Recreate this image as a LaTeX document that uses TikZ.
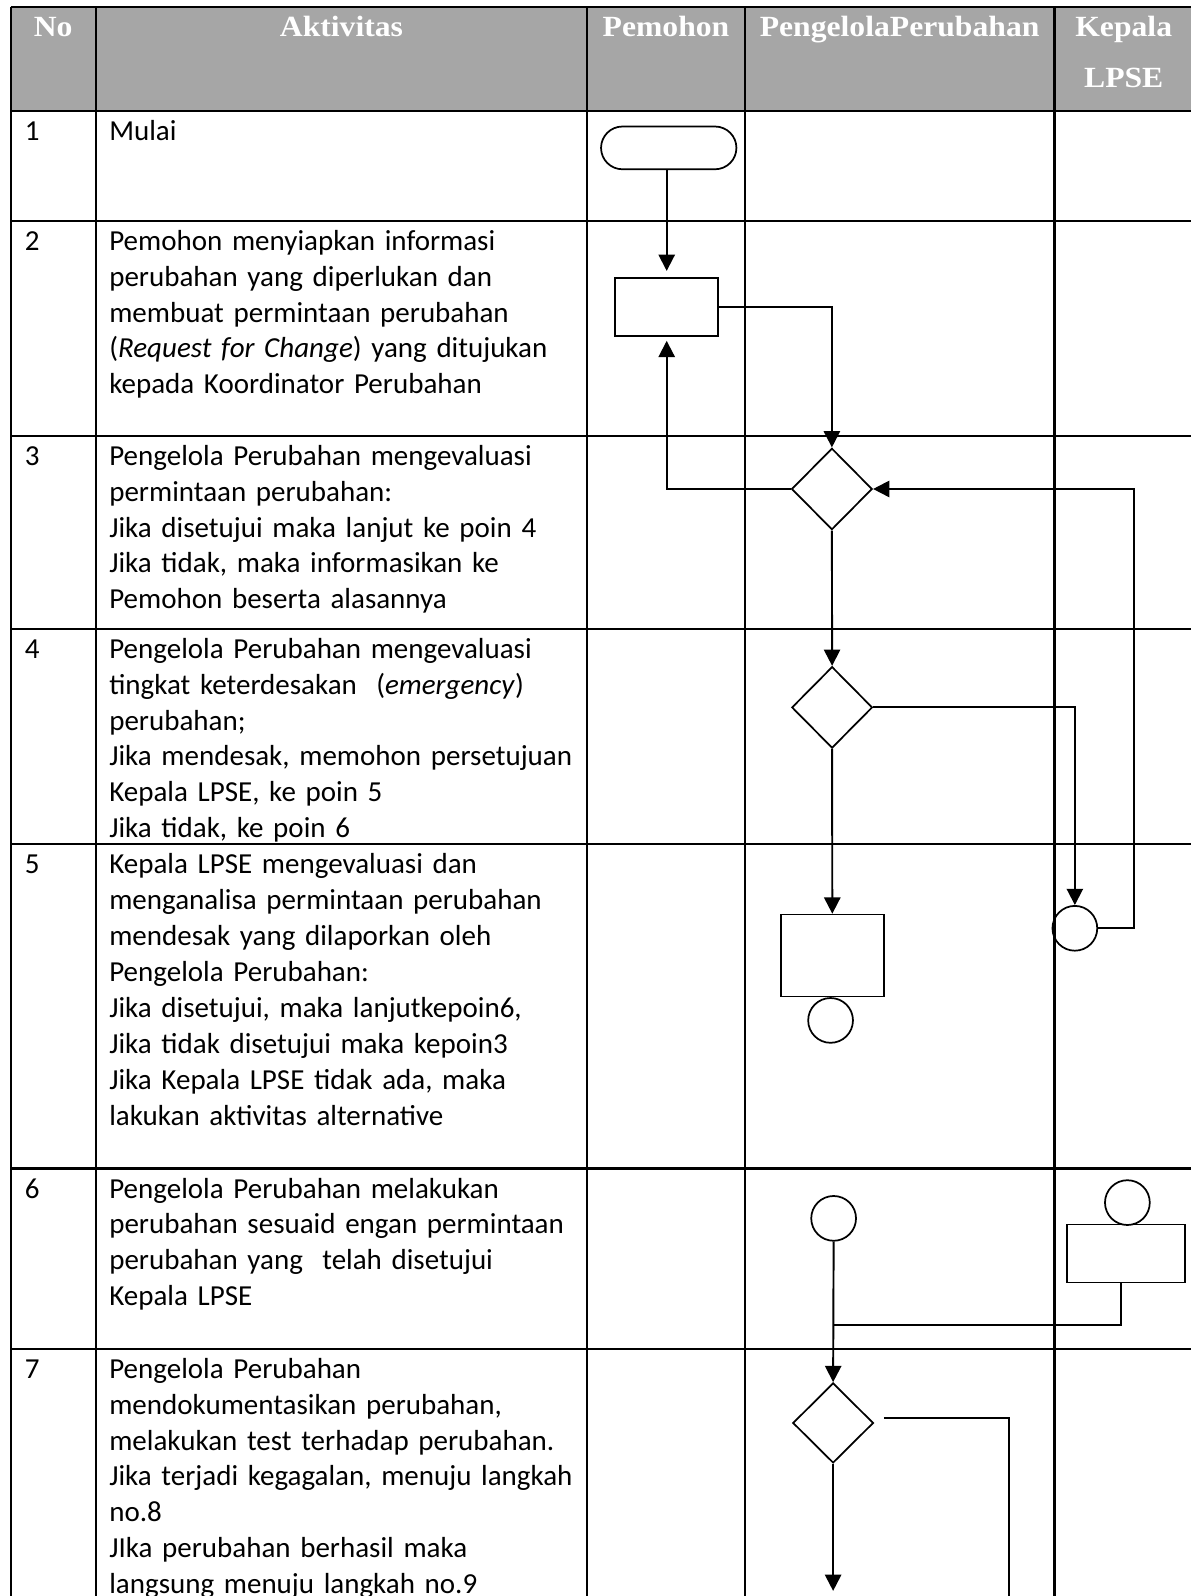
\documentclass[tikz,border=0pt]{standalone}
\usepackage{fontspec}
\setmainfont{Carlito}
\newfontfamily\hdrfont[FakeStretch=1.08]{Liberation Serif}
\usetikzlibrary{arrows.meta,shapes.geometric}
\definecolor{hdrgray}{RGB}{166,166,166}
\begin{document}
\begin{tikzpicture}[x=0.5pt,y=-0.5pt,
  grid/.style={line width=1.05pt},
  flow/.style={line width=0.95pt},
  arr/.style={flow,-{Triangle[length=8pt,width=8pt]}},
  shp/.style={draw,line width=0.85pt,inner sep=0pt},
  procbox/.style={shp,rectangle},
  dec/.style={shp,diamond,minimum width=39.6pt,minimum height=40pt},
  conn/.style={shp,circle,minimum size=22pt},
  term/.style={shp,rectangle,rounded corners=10.5pt,minimum width=66.5pt,minimum height=21pt},
  body/.style={inner sep=0pt,anchor=base west,text width=300pt,align=left,font=\fontsize{14.25pt}{17.65pt}\selectfont},
  num/.style={inner sep=0pt,anchor=base west,font=\fontsize{14.25pt}{17.65pt}\selectfont},
  hdr/.style={inner sep=0pt,anchor=base,text=white,font=\hdrfont\bfseries\fontsize{14.4pt}{25.2pt}\selectfont}
]
\useasboundingbox (0,0) rectangle (1170,1568);
% header
\fill[hdrgray] (10.5,7.2) rectangle (1170,109);
% grid
\foreach \x in {10.5,94,577,731.6,1036} \draw[grid] (\x,7.2) -- (\x,1572);
\foreach \y in {7.2,109,216.8,428,617.6,829.4,1148,1325} \draw[grid] (10.5,\y) -- (1172,\y);
% header texts
\node[hdr] (hNo) at (52.3,35.4) {No};
\node[hdr] (hAkt) at (335.5,35.4) {Aktivitas};
\node[hdr] (hPem) at (654.3,35.4) {Pemohon};
\node[hdr] (hPP) at (883.8,35.4) {PengelolaPerubahan};
\node[hdr,text width=60pt,align=center] (hKep) at (1104,35.4) {Kepala\\LPSE};
% numbers
\node[num] (n1) at (24,138) {1};
\node[num] (n2) at (24,245.8) {2};
\node[num] (n3) at (24,457) {3};
\node[num] (n4) at (24,646.6) {4};
\node[num] (n5) at (24,858.4) {5};
\node[num] (n6) at (24,1177) {6};
\node[num] (n7) at (24,1354) {7};
% activity texts
\node[body] (a1) at (107,138) {Mulai};
\node[body] (a2) at (107,245.8) {Pemohon menyiapkan informasi\\perubahan yang diperlukan dan\\membuat permintaan perubahan\\(\textit{Request for Change}) yang ditujukan\\kepada Koordinator Perubahan};
\node[body] (a3) at (107,457) {Pengelola Perubahan mengevaluasi\\permintaan perubahan:\\Jika disetujui maka lanjut ke poin 4\\Jika tidak, maka informasikan ke\\Pemohon beserta alasannya};
\node[body] (a4) at (107,646.6) {Pengelola Perubahan mengevaluasi\\tingkat keterdesakan~ (\textit{emergency})\\perubahan;\\Jika mendesak, memohon persetujuan\\Kepala LPSE, ke poin 5\\Jika tidak, ke poin 6};
\node[body] (a5) at (107,858.4) {Kepala LPSE mengevaluasi dan\\menganalisa permintaan perubahan\\mendesak yang dilaporkan oleh\\Pengelola Perubahan:\\Jika disetujui, maka lanjutkepoin6,\\Jika tidak disetujui maka kepoin3\\Jika Kepala LPSE tidak ada, maka\\lakukan aktivitas alternative};
\node[body] (a6) at (107,1177) {Pengelola Perubahan melakukan\\perubahan sesuaid engan permintaan\\perubahan yang~ telah disetujui\\Kepala LPSE};
\node[body] (a7) at (107,1354) {Pengelola Perubahan\\mendokumentasikan perubahan,\\melakukan test terhadap perubahan.\\Jika terjadi kegagalan, menuju langkah\\no.8\\JIka perubahan berhasil maka\\langsung menuju langkah no.9};
% flowchart shapes
\node[term] (t1) at (657,145.3) {};
\node[procbox,minimum width=50.5pt,minimum height=28.5pt] (p2) at (655,301.5) {};
\node[dec] (d3) at (817.3,480.4) {};
\node[dec] (d4) at (817.5,695) {};
\node[conn] (c5k) at (1056,912) {};
\node[procbox,minimum width=50.5pt,minimum height=40.25pt] (p5) at (817.7,938.8) {};
\node[conn] (c5p) at (816,1002.5) {};
\node[conn] (c6p) at (819,1197) {};
\node[conn] (c6k) at (1107.6,1181.5) {};
\node[procbox,minimum width=58pt,minimum height=28.5pt] (p6k) at (1106,1231.5) {};
\node[dec,minimum height=39.3pt] (d7) at (818.5,1398) {};
% connectors
\draw[arr] (t1.south -| p2.north) -- ([yshift=3pt]p2.north);
\draw[arr] (p2.east) -| (d3.north);
\draw[arr] (d3.west) -| ([yshift=-2pt]p2.south);
\draw[arr] (d3.south) -- (d4.north);
\draw[arr] (d4.east) -| (c5k.north);
\coordinate (r5) at (1114,912);
\draw[arr] (c5k.east) -- (r5) |- (d3.east);
\draw[arr] (d4.south) -- (p5.north);
\draw[arr] (c6p.south) -- (d7.north);
\coordinate (j6) at (819,1301.6);
\draw[flow] ([xshift=-2.5pt]p6k.south) |- (j6);
\coordinate (d7a) at (868.4,1393.3);
\coordinate (d7b) at (991,1572);
\draw[flow] (d7a) -| (d7b);
\coordinate (d7c) at (818.5,1563);
\draw[arr] (d7.south) -- (d7c);
\end{tikzpicture}
\end{document}
